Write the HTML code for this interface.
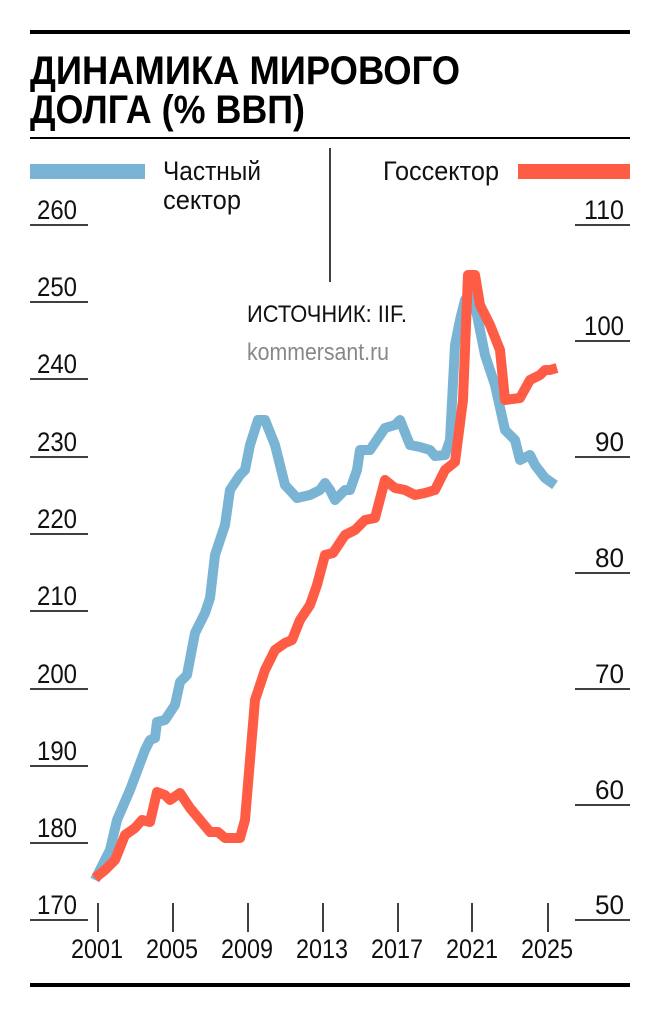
<!DOCTYPE html>
<html><head><meta charset="utf-8"><style>
body{margin:0;background:#fff}
svg text{font-family:"Liberation Sans",sans-serif}
</style></head><body>
<svg width="660" height="1017" viewBox="0 0 660 1017" xmlns="http://www.w3.org/2000/svg">
<rect x="30" y="30" width="600" height="4" fill="#000"/>
<text x="30" y="84" font-size="40" font-weight="900" fill="#000" textLength="430" lengthAdjust="spacingAndGlyphs">ДИНАМИКА МИРОВОГО</text>
<text x="30" y="123" font-size="40" font-weight="900" fill="#000" textLength="275" lengthAdjust="spacingAndGlyphs">ДОЛГА (% ВВП)</text>
<rect x="30" y="137" width="600" height="2" fill="#000"/>
<line x1="330" y1="148" x2="330" y2="282" stroke="#000" stroke-width="1.5"/>
<rect x="30" y="164" width="115" height="15" fill="#7ab4d4"/>
<rect x="518" y="164" width="112" height="15" fill="#ff5c45"/>
<g font-size="27" fill="#111">
<text x="163" y="180" textLength="98" lengthAdjust="spacingAndGlyphs">Частный</text>
<text x="163" y="209" textLength="78" lengthAdjust="spacingAndGlyphs">сектор</text>
<text x="383" y="180" textLength="116" lengthAdjust="spacingAndGlyphs">Госсектор</text>
<text x="247" y="322" font-size="24" textLength="160" lengthAdjust="spacingAndGlyphs">ИСТОЧНИК: IIF.</text>
<text x="247" y="360" font-size="24" fill="#888" textLength="142" lengthAdjust="spacingAndGlyphs">kommersant.ru</text>
</g>
<g stroke="#000" stroke-width="1.5">
<line x1="30" y1="225" x2="88" y2="225"/><line x1="30" y1="302" x2="88" y2="302"/><line x1="30" y1="379" x2="88" y2="379"/><line x1="30" y1="457" x2="88" y2="457"/><line x1="30" y1="534" x2="88" y2="534"/><line x1="30" y1="611" x2="88" y2="611"/><line x1="30" y1="689" x2="88" y2="689"/><line x1="30" y1="766" x2="88" y2="766"/><line x1="30" y1="843" x2="88" y2="843"/><line x1="30" y1="920" x2="88" y2="920"/>
<line x1="575" y1="225" x2="630" y2="225"/><line x1="575" y1="341" x2="630" y2="341"/><line x1="575" y1="457" x2="630" y2="457"/><line x1="575" y1="573" x2="630" y2="573"/><line x1="575" y1="689" x2="630" y2="689"/><line x1="575" y1="805" x2="630" y2="805"/><line x1="575" y1="920" x2="630" y2="920"/>
<line x1="98" y1="903" x2="98" y2="932"/><line x1="173" y1="903" x2="173" y2="932"/><line x1="248" y1="903" x2="248" y2="932"/><line x1="323" y1="903" x2="323" y2="932"/><line x1="398" y1="903" x2="398" y2="932"/><line x1="472" y1="903" x2="472" y2="932"/><line x1="548" y1="903" x2="548" y2="932"/>
</g>
<g font-size="27" fill="#111">
<text x="37" y="219" textLength="40" lengthAdjust="spacingAndGlyphs">260</text>
<text x="37" y="296" textLength="40" lengthAdjust="spacingAndGlyphs">250</text>
<text x="37" y="373" textLength="40" lengthAdjust="spacingAndGlyphs">240</text>
<text x="37" y="451" textLength="40" lengthAdjust="spacingAndGlyphs">230</text>
<text x="37" y="528" textLength="40" lengthAdjust="spacingAndGlyphs">220</text>
<text x="37" y="605" textLength="40" lengthAdjust="spacingAndGlyphs">210</text>
<text x="37" y="683" textLength="40" lengthAdjust="spacingAndGlyphs">200</text>
<text x="37" y="760" textLength="40" lengthAdjust="spacingAndGlyphs">190</text>
<text x="37" y="837" textLength="40" lengthAdjust="spacingAndGlyphs">180</text>
<text x="37" y="914" textLength="40" lengthAdjust="spacingAndGlyphs">170</text>
<text x="584" y="219" textLength="40" lengthAdjust="spacingAndGlyphs">110</text>
<text x="584" y="335" textLength="40" lengthAdjust="spacingAndGlyphs">100</text>
<text x="595" y="451" textLength="29" lengthAdjust="spacingAndGlyphs">90</text>
<text x="595" y="567" textLength="29" lengthAdjust="spacingAndGlyphs">80</text>
<text x="595" y="683" textLength="29" lengthAdjust="spacingAndGlyphs">70</text>
<text x="595" y="799" textLength="29" lengthAdjust="spacingAndGlyphs">60</text>
<text x="595" y="914" textLength="29" lengthAdjust="spacingAndGlyphs">50</text>
<text x="71" y="958" textLength="52" lengthAdjust="spacingAndGlyphs">2001</text>
<text x="146" y="958" textLength="52" lengthAdjust="spacingAndGlyphs">2005</text>
<text x="221" y="958" textLength="52" lengthAdjust="spacingAndGlyphs">2009</text>
<text x="296" y="958" textLength="52" lengthAdjust="spacingAndGlyphs">2013</text>
<text x="371" y="958" textLength="52" lengthAdjust="spacingAndGlyphs">2017</text>
<text x="446" y="958" textLength="52" lengthAdjust="spacingAndGlyphs">2021</text>
<text x="521" y="958" textLength="52" lengthAdjust="spacingAndGlyphs">2025</text>
</g>
<polyline fill="none" stroke="#7ab4d4" stroke-width="10" stroke-linejoin="round" points="95,880 110,850 117,820 130,790 145,750 150,740 155,738 157,722 165,720 175,705 180,682 187,675 195,633 205,613 210,598 215,555 225,525 230,490 240,475 245,470 250,445 258,420 265,420 275,445 285,485 297,498 310,495 320,490 325,483 330,490 335,500 345,490 350,490 357,470 360,450 370,450 385,428 395,425 400,420 410,445 420,447 430,450 435,456 445,455 450,440 455,345 460,320 465,300 472,290 478,320 485,355 495,385 505,430 515,440 520,460 530,455 535,465 545,478 555,485"/>
<polyline fill="none" stroke="#ff5c45" stroke-width="10" stroke-linejoin="round" points="95,878 105,870 115,860 125,835 135,828 142,820 150,822 157,792 165,795 170,800 180,793 190,808 200,820 210,832 218,832 225,838 240,838 245,820 255,700 265,670 275,650 285,643 292,640 300,620 310,605 317,585 325,555 333,553 345,535 355,530 365,520 375,518 385,480 395,488 405,490 415,495 425,493 435,490 445,470 455,462 463,400 468,275 475,275 480,305 490,325 500,350 505,400 520,398 530,380 540,375 545,370 550,370 557,368"/>
<rect x="30" y="983" width="600" height="4" fill="#000"/>
</svg>
</body></html>
